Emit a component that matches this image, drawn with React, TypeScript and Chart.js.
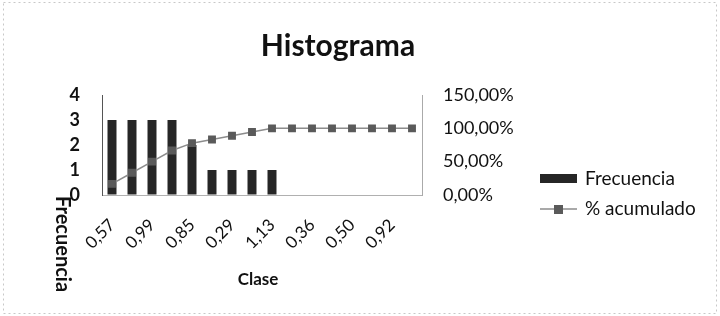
import React, { useEffect, useRef } from "react";
import { Chart, registerables } from "chart.js";
Chart.register(...registerables);

const W = 720;
const H = 316;

// Category labels (only every other class label is legible in the reference)
const categories = ["0,57", "", "0,99", "", "0,85", "", "0,29", "", "1,13", "", "0,36", "", "0,50", "", "0,92", ""];
const frecuencia = [3, 3, 3, 3, 2, 1, 1, 1, 1, 0, 0, 0, 0, 0, 0, 0];
const acumulado = [16.67, 33.33, 50, 66.67, 77.78, 83.33, 88.89, 94.44, 100, 100, 100, 100, 100, 100, 100, 100];
const leftMax = 4;
const rightMax = 150;
const rightStep = 50;

const FONT = "Lato, 'Open Sans', sans-serif";
const BAR_COLOR = "#262626";
const LINE_COLOR = "#8c8c8c";
const POINT_COLOR = "#5a5a5a";

const decor = {
  id: "decor",
  afterDraw(chart: any) {
    const ctx = chart.ctx;
    ctx.save();
    // faint frame
    ctx.strokeStyle = "#c8c8c8";
    ctx.setLineDash([2, 3]);
    ctx.lineWidth = 1;
    ctx.strokeRect(3.5, 2.5, W - 7, H - 5);
    ctx.setLineDash([]);
    ctx.fillStyle = "#111";
    ctx.textAlign = "center";
    ctx.textBaseline = "middle";
    // title
    ctx.font = `bold 30px ${FONT}`;
    ctx.fillText("Histograma", 338, 46);
    // x title
    ctx.font = `bold 17px ${FONT}`;
    ctx.fillText("Clase", 258, 280);
    // y title rotated clockwise
    ctx.save();
    ctx.translate(62, 244);
    ctx.rotate(Math.PI / 2);
    ctx.font = `bold 20px ${FONT}`;
    ctx.fillText("Frecuencia", 0, 0);
    ctx.restore();
    // legend
    ctx.textAlign = "left";
    ctx.font = `19px ${FONT}`;
    ctx.fillStyle = BAR_COLOR;
    ctx.fillRect(540, 174, 37, 9);
    ctx.fillStyle = "#111";
    ctx.fillText("Frecuencia", 585, 179);
    ctx.strokeStyle = LINE_COLOR;
    ctx.lineWidth = 1.5;
    ctx.beginPath();
    ctx.moveTo(540, 209);
    ctx.lineTo(577, 209);
    ctx.stroke();
    ctx.fillStyle = POINT_COLOR;
    ctx.fillRect(554, 205, 9, 9);
    ctx.fillStyle = "#111";
    ctx.fillText("% acumulado", 585, 209);
    ctx.restore();
  },
};

export default function App() {
  const ref = useRef<HTMLCanvasElement>(null);
  useEffect(() => {
    if (!ref.current) return;
    const chart = new Chart(ref.current, {
      data: {
        labels: categories,
        datasets: [
          {
            type: "line",
            label: "% acumulado",
            data: acumulado,
            yAxisID: "y1",
            borderColor: LINE_COLOR,
            borderWidth: 1.5,
            pointStyle: "rect",
            pointRadius: 4.5,
            pointBackgroundColor: POINT_COLOR,
            pointBorderColor: POINT_COLOR,
            tension: 0,
            order: 0,
          },
          {
            type: "bar",
            label: "Frecuencia",
            data: frecuencia,
            yAxisID: "y",
            backgroundColor: BAR_COLOR,
            borderWidth: 0,
            barPercentage: 0.45,
            categoryPercentage: 1,
            order: 1,
          },
        ],
      } as any,
      options: {
        responsive: false,
        animation: false,
        layout: { padding: { top: 95, left: 0, right: 0, bottom: 0 } },
        plugins: { legend: { display: false }, title: { display: false }, tooltip: { enabled: false } },
        scales: {
          x: {
            grid: { display: true, color: "rgba(0,0,0,0)", drawTicks: false },
            border: { display: true, color: "#b0b0b0", dash: [2, 3] },
            ticks: {
              autoSkip: false,
              minRotation: 45,
              maxRotation: 45,
              padding: 20,
              color: "#111",
              font: { family: FONT, size: 17 },
            },
            afterFit(scale: any) {
              scale.height = 121;
            },
          },
          y: {
            position: "left",
            min: 0,
            max: leftMax,
            grid: { display: true, color: "rgba(0,0,0,0)", drawTicks: false },
            border: { display: true, color: "#555", dash: [2, 2] },
            ticks: {
              stepSize: 1,
              padding: 22,
              color: "#111",
              font: { family: FONT, size: 18, weight: "bold" },
            },
            afterFit(scale: any) {
              scale.width = 102;
            },
          },
          y1: {
            position: "right",
            min: 0,
            max: rightMax,
            grid: { display: true, color: "rgba(0,0,0,0)", drawTicks: false },
            border: { display: true, color: "#aaa", dash: [2, 3] },
            ticks: {
              stepSize: rightStep,
              padding: 21,
              color: "#111",
              font: { family: FONT, size: 18 },
              callback: (v: any) => Number(v).toFixed(2).replace(".", ",") + "%",
            },
            afterFit(scale: any) {
              scale.width = 298;
            },
          },
        },
      } as any,
      plugins: [decor],
    });
    return () => chart.destroy();
  }, []);
  return (
    <div style={{ position: "fixed", left: 0, top: 0, width: W, height: H, background: "#fff" }}>
      <canvas ref={ref} width={W} height={H} />
    </div>
  );
}
